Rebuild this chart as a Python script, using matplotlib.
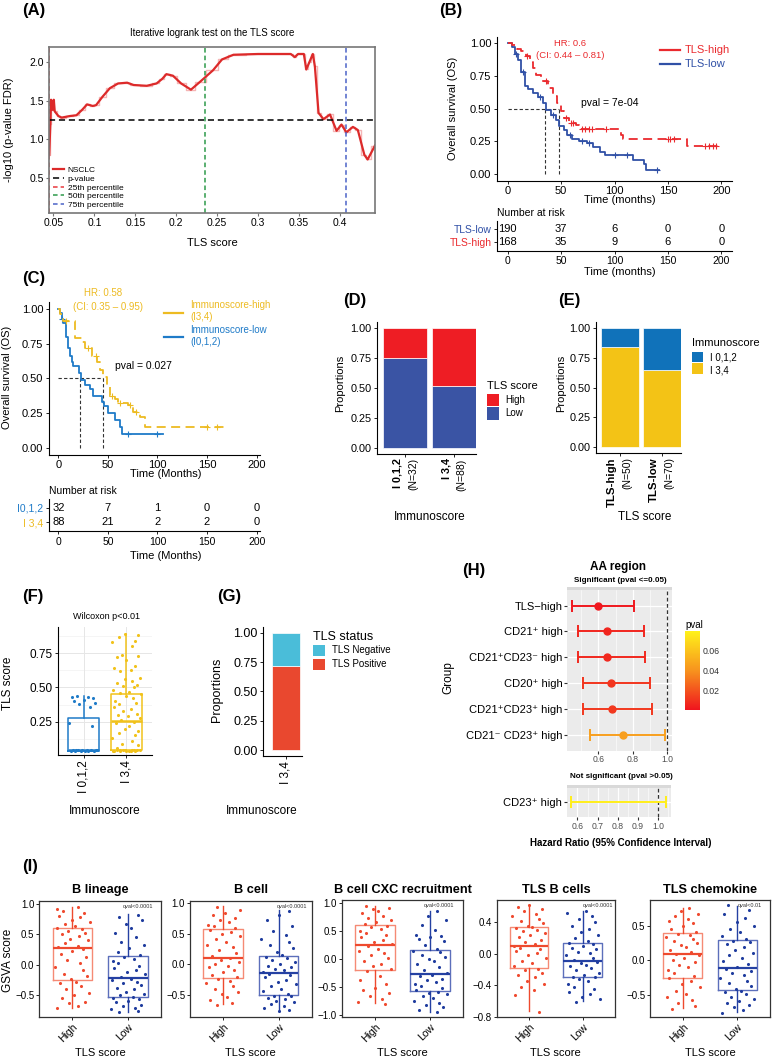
import numpy as np
import matplotlib
matplotlib.use("Agg")
import matplotlib.pyplot as plt
import matplotlib.transforms as mtransforms
from matplotlib.colors import LinearSegmentedColormap, Normalize
from matplotlib.patches import Rectangle
from matplotlib.lines import Line2D
from matplotlib.cm import ScalarMappable

plt.rcParams['font.family'] = ['Liberation Sans', 'DejaVu Sans']
plt.rcParams['font.size'] = 7.5

# ---------------- data ----------------
# (A) iterative logrank test
A_TLS = [0.0447, 0.0462, 0.0470, 0.0480, 0.0490, 0.0503, 0.0515, 0.0560, 0.0600, 0.0700,
         0.0780, 0.0850, 0.0910, 0.0980, 0.1020, 0.1100, 0.1190, 0.1290, 0.1400, 0.1480,
         0.1640, 0.1760, 0.1830, 0.1880, 0.1960, 0.2060, 0.2180, 0.2290, 0.2450, 0.2560,
         0.2700, 0.3000, 0.3400, 0.3450, 0.3490, 0.3560, 0.3590, 0.3630, 0.3670, 0.3695,
         0.3740, 0.3800, 0.3880, 0.3960, 0.4020, 0.4080, 0.4160, 0.4220, 0.4300, 0.4340, 0.4430]
A_FDR = [0.80, 1.20, 1.51, 1.45, 1.38, 1.51, 1.36, 1.30, 1.28, 1.30,
         1.31, 1.38, 1.45, 1.43, 1.44, 1.55, 1.66, 1.72, 1.73, 1.70,
         1.69, 1.72, 1.78, 1.84, 1.82, 1.72, 1.64, 1.74, 1.89, 2.03,
         2.09, 2.10, 2.10, 2.06, 2.10, 2.10, 1.90, 2.00, 2.10, 1.94,
         1.34, 1.26, 1.32, 1.11, 1.19, 1.09, 1.16, 1.12, 0.80, 0.74, 0.92]
A_PCUT = 1.25
A_PCTL = [0.045, 0.235, 0.408]
A_PCTL_LABELS = ['25th percentile', '50th percentile', '75th percentile']
A_XTICKS = [0.05, 0.1, 0.15, 0.2, 0.25, 0.3, 0.35, 0.4]
A_XTICKLABELS = ['0.05', '0.1', '0.15', '0.2', '0.25', '0.3', '0.35', '0.4']

# (B) KM TLS-high vs TLS-low
B_LOW_T = [0, 3.7, 6.7, 9.8, 12.9, 16, 19, 23.6, 28, 32.8, 35.9, 40.5, 45, 48, 52.8,
           55.8, 60.4, 66.6, 74, 80, 86.5, 91, 117, 128, 129.4, 142]
B_LOW_S = [1.0, 0.97, 0.92, 0.87, 0.78, 0.67, 0.65, 0.62, 0.59, 0.54, 0.49, 0.45, 0.41, 0.37, 0.34,
           0.30, 0.27, 0.25, 0.235, 0.21, 0.17, 0.145, 0.11, 0.08, 0.03, 0.03]
B_HIGH_T = [0, 3.7, 8.3, 12.9, 17.5, 20.6, 23.6, 26.7, 31.3, 37.4, 42, 46, 49.7, 52.8,
            57.4, 63.5, 66.6, 106.4, 108, 167.8, 197]
B_HIGH_S = [1.0, 0.99, 0.96, 0.94, 0.90, 0.86, 0.81, 0.76, 0.71, 0.66, 0.60, 0.54, 0.48, 0.43,
            0.39, 0.375, 0.345, 0.30, 0.265, 0.215, 0.215]
B_LOW_CENS = [8, 14, 30, 42, 58, 70, 76, 100, 112, 140]
B_HIGH_CENS = [18, 36, 55, 59, 61, 70, 72, 76, 79, 92, 150, 152, 156, 185, 188, 192, 195]
B_MED = [35, 48]
RISK_T = [0, 50, 100, 150, 200]
B_RISK_LOW = [190, 37, 6, 0, 0]
B_RISK_HIGH = [168, 35, 9, 6, 0]

# (C) KM immunoscore
C_LOW_T = [0, 1.7, 3.4, 5, 7.4, 9.4, 11.8, 13.4, 15.1, 20.8, 22.9, 26.9, 31.9, 35.3, 43.7,
           46, 50.4, 57.1, 62.2, 63.9, 106]
C_LOW_S = [1.0, 0.97, 0.93, 0.90, 0.80, 0.72, 0.66, 0.62, 0.59, 0.54, 0.49, 0.45, 0.42, 0.37, 0.33,
           0.30, 0.25, 0.20, 0.15, 0.10, 0.10]
C_HIGH_T = [0, 1.7, 5, 16.8, 23.5, 26.9, 33.6, 38.7, 42, 44.7, 48.7, 52, 57, 60.5, 70.6,
            75.6, 82.4, 87.4, 168]
C_HIGH_S = [1.0, 0.96, 0.91, 0.79, 0.76, 0.72, 0.66, 0.62, 0.56, 0.51, 0.45, 0.37, 0.35, 0.32, 0.31,
            0.26, 0.22, 0.15, 0.15]
C_LOW_CENS = [4, 70, 100]
C_HIGH_CENS = [8, 30, 38, 54, 62, 72, 78, 150, 160]
C_MED = [22, 45]
C_RISK_LOW = [32, 7, 1, 0, 0]
C_RISK_HIGH = [88, 21, 2, 2, 0]

# (D) TLS score by immunoscore
D_GROUPS = ['I 0,1,2', 'I 3,4']
D_N = [32, 88]
D_LOW = [0.75, 0.52]
D_HIGH = [0.25, 0.48]

# (E) immunoscore by TLS score
E_GROUPS = ['TLS-high', 'TLS-low']
E_N = [50, 70]
E_I34 = [0.84, 0.65]
E_I012 = [0.16, 0.35]

# (F) TLS score by immunoscore
F_GROUPS = ['I 0,1,2', 'I 3,4']
F_BOX_LOW = [0.036, 0.036, 0.040, 0.279, 0.44]     # whislo, q1, med, q3, whishi
F_BOX_HIGH = [0.036, 0.040, 0.255, 0.455, 0.89]
F_LOW_PTS = [0.035, 0.036, 0.037, 0.038, 0.038, 0.039, 0.040, 0.040, 0.041, 0.041, 0.042,
             0.043, 0.044, 0.045, 0.22, 0.24, 0.36, 0.38, 0.39, 0.40, 0.41, 0.42, 0.43, 0.43, 0.44]
F_HIGH_PTS = [0.89, 0.88, 0.87, 0.84, 0.83, 0.80, 0.74, 0.73, 0.72, 0.70, 0.66, 0.64, 0.63,
              0.62, 0.57, 0.56, 0.55, 0.53, 0.52, 0.51, 0.50, 0.48, 0.47, 0.46, 0.45, 0.44,
              0.42, 0.40, 0.39, 0.38, 0.36, 0.34, 0.33, 0.31, 0.30, 0.29, 0.28, 0.26, 0.25,
              0.24, 0.22, 0.20, 0.18, 0.17, 0.15, 0.13, 0.11, 0.09, 0.08, 0.06,
              0.035, 0.036, 0.037, 0.038, 0.039, 0.040, 0.040, 0.041, 0.042, 0.043, 0.044,
              0.045, 0.036, 0.039, 0.042]

# (G) TLS status
G_GROUP = ['I 3,4']
G_POS = [0.72]
G_NEG = [0.28]

# (H) forest plot, AA region
H_GROUPS = ['TLS\u2212high', 'CD21\u207a high', 'CD21\u207aCD23\u207b high', 'CD20\u207a high',
            'CD21\u207aCD23\u207a high', 'CD21\u207b CD23\u207a high']
H_EST = [0.600, 0.649, 0.650, 0.674, 0.678, 0.741]
H_LO = [0.446, 0.484, 0.484, 0.509, 0.511, 0.552]
H_HI = [0.809, 0.867, 0.870, 0.900, 0.911, 0.987]
H_PVAL = [0.002, 0.006, 0.007, 0.011, 0.012, 0.045]
H_NS_GROUP = ['CD23\u207a high']
H_NS_LO = [0.567]
H_NS_HI = [1.04]
H_NS_PVAL = [0.078]

# (I) GSVA scores
I_TITLES = ['B lineage', 'B cell', 'B cell CXC recruitment', 'TLS B cells', 'TLS chemokine']
I_QVAL = ['qval<0.0001', 'qval<0.0001', 'qval<0.0001', 'qval<0.0001', 'qval<0.01']
I_YLIM = [(-0.86, 1.055), (-0.855, 1.04), (-1.03, 1.06), (-0.79, 0.686), (-0.81, 0.867)]
I_YTICKS = [[-0.5, 0.0, 0.5, 1.0], [-0.5, 0.0, 0.5, 1.0], [-1.0, -0.5, 0.0, 0.5, 1.0],
            [-0.8, -0.4, 0.0, 0.4], [-0.5, 0.0, 0.5]]
# whislo, q1, med, q3, whishi
I_HIGH_BOX = [[-0.72, -0.26, 0.27, 0.60, 0.95], [-0.65, -0.23, 0.107, 0.573, 0.95],
              [-0.79, -0.20, 0.25, 0.61, 0.95], [-0.73, -0.18, 0.105, 0.345, 0.62],
              [-0.69, -0.247, 0.095, 0.39, 0.75]]
I_LOW_BOX = [[-0.78, -0.53, -0.22, 0.14, 0.84], [-0.75, -0.50, -0.134, 0.13, 0.88],
             [-0.94, -0.57, -0.26, 0.16, 0.86], [-0.60, -0.295, -0.097, 0.143, 0.55],
             [-0.74, -0.43, -0.11, 0.286, 0.786]]
I_HIGH_PTS = [
    [-0.72, -0.69, -0.64, -0.61, -0.55, -0.50, -0.47, -0.41, -0.36, -0.31, -0.28,
     -0.24, -0.19, -0.15, -0.09, -0.04, 0.03, 0.08, 0.13, 0.18, 0.22, 0.26,
     0.29, 0.31, 0.36, 0.40, 0.43, 0.47, 0.50, 0.53, 0.55, 0.58,
     0.61, 0.63, 0.67, 0.70, 0.74, 0.78, 0.81, 0.85, 0.88, 0.92, 0.95],
    [-0.66, -0.63, -0.58, -0.54, -0.49, -0.45, -0.40, -0.36, -0.31, -0.27, -0.24,
     -0.21, -0.17, -0.13, -0.09, -0.05, -0.02, 0.01, 0.04, 0.07, 0.10,
     0.13, 0.18, 0.23, 0.28, 0.32, 0.37, 0.42, 0.46, 0.50, 0.53, 0.56,
     0.59, 0.62, 0.65, 0.69, 0.72, 0.76, 0.80, 0.84, 0.88, 0.93],
    [-0.80, -0.76, -0.71, -0.66, -0.61, -0.56, -0.51, -0.45, -0.38, -0.30, -0.22,
     -0.18, -0.13, -0.08, -0.03, 0.02, 0.07, 0.11, 0.15, 0.19, 0.23,
     0.27, 0.31, 0.35, 0.39, 0.43, 0.47, 0.51, 0.54, 0.57, 0.60,
     0.63, 0.66, 0.70, 0.74, 0.78, 0.82, 0.86, 0.89, 0.92, 0.95],
    [-0.74, -0.52, -0.46, -0.42, -0.38, -0.34, -0.30, -0.27, -0.24, -0.21, -0.19,
     -0.16, -0.12, -0.09, -0.05, -0.02, 0.01, 0.04, 0.06, 0.08, 0.10,
     0.12, 0.15, 0.18, 0.21, 0.24, 0.26, 0.29, 0.31, 0.33, 0.34,
     0.36, 0.39, 0.42, 0.45, 0.48, 0.51, 0.54, 0.57, 0.60, 0.62],
    [-0.70, -0.66, -0.62, -0.57, -0.53, -0.49, -0.44, -0.39, -0.34, -0.30, -0.26,
     -0.22, -0.18, -0.14, -0.10, -0.06, -0.02, 0.01, 0.04, 0.07, 0.09,
     0.12, 0.15, 0.19, 0.22, 0.25, 0.28, 0.31, 0.34, 0.36, 0.38,
     0.41, 0.45, 0.49, 0.53, 0.57, 0.60, 0.63, 0.67, 0.71, 0.75],
]
I_LOW_PTS = [
    [-0.78, -0.76, -0.74, -0.71, -0.68, -0.66, -0.62, -0.60, -0.57, -0.55, -0.54,
     -0.51, -0.48, -0.45, -0.41, -0.38, -0.34, -0.31, -0.28, -0.25, -0.23,
     -0.20, -0.16, -0.12, -0.09, -0.05, -0.02, 0.02, 0.06, 0.09, 0.12,
     0.16, 0.21, 0.27, 0.33, 0.38, 0.45, 0.52, 0.60, 0.67, 0.74, 0.79, 0.82],
    [-0.76, -0.74, -0.71, -0.68, -0.65, -0.62, -0.60, -0.57, -0.55, -0.52, -0.51,
     -0.48, -0.44, -0.40, -0.36, -0.32, -0.28, -0.25, -0.21, -0.18, -0.15,
     -0.12, -0.10, -0.07, -0.05, -0.02, 0.01, 0.04, 0.07, 0.10, 0.12,
     0.15, 0.20, 0.26, 0.31, 0.36, 0.42, 0.48, 0.55, 0.63, 0.72, 0.80, 0.87],
    [-0.94, -0.91, -0.86, -0.82, -0.78, -0.74, -0.70, -0.66, -0.63, -0.60, -0.58,
     -0.55, -0.52, -0.48, -0.45, -0.41, -0.38, -0.35, -0.31, -0.28,
     -0.24, -0.19, -0.14, -0.09, -0.04, 0.00, 0.04, 0.08, 0.12, 0.15,
     0.19, 0.25, 0.33, 0.37, 0.39, 0.41, 0.44, 0.52, 0.61, 0.70, 0.78, 0.86],
    [-0.61, -0.58, -0.55, -0.51, -0.48, -0.45, -0.42, -0.38, -0.35, -0.32, -0.30,
     -0.29, -0.27, -0.24, -0.21, -0.18, -0.16, -0.14, -0.12, -0.10,
     -0.08, -0.05, -0.02, 0.01, 0.03, 0.06, 0.08, 0.10, 0.12, 0.14,
     0.16, 0.20, 0.24, 0.28, 0.32, 0.36, 0.40, 0.44, 0.48, 0.52, 0.55],
    [-0.75, -0.71, -0.67, -0.64, -0.61, -0.58, -0.55, -0.52, -0.49, -0.46, -0.44,
     -0.41, -0.37, -0.33, -0.29, -0.25, -0.21, -0.18, -0.15, -0.12,
     -0.09, -0.05, -0.01, 0.03, 0.07, 0.11, 0.15, 0.19, 0.23, 0.26, 0.28,
     0.31, 0.35, 0.40, 0.45, 0.50, 0.55, 0.61, 0.67, 0.73, 0.79],
]

# fixed jitter pattern (horizontal spread of points, in box-width units)
JIT = [-0.21, 0.08, -0.05, 0.17, -0.14, 0.02, 0.23, -0.09, 0.12, -0.18, 0.05, -0.02, 0.20,
       -0.12, 0.14, -0.24, 0.10, -0.07, 0.19, -0.16, 0.00, 0.15, -0.20, 0.07, -0.11, 0.22,
       -0.03, 0.09, -0.15, 0.18, -0.06, 0.13, -0.22, 0.04, -0.10, 0.24, -0.01, 0.11, -0.19,
       0.16, -0.13]

# colours
RED_B, BLUE_B = '#EA2A2E', '#3050A6'
YEL_C, BLUE_C = '#EDBB22', '#1F7BC8'
D_RED, D_BLUE = '#EE1D24', '#3A54A4'
E_BLUE, E_YEL = '#1072BA', '#F3C316'
G_CYAN, G_RED = '#4ABDD9', '#E9482F'

# ---------------- figure helpers (pixel layout) ----------------
W, H = 772, 1059
fig = plt.figure(figsize=(W / 100, H / 100), dpi=100)
fig.patch.set_facecolor('white')


def add_ax(l, t, r, b):
    return fig.add_axes([l / W, 1 - b / H, (r - l) / W, (b - t) / H])


def ftext(x, y, s, **kw):
    kw.setdefault('ha', 'center')
    kw.setdefault('va', 'center')
    return fig.text(x / W, 1 - y / H, s, **kw)


def frect(l, t, r, b, color):
    fig.add_artist(Rectangle((l / W, 1 - b / H), (r - l) / W, (b - t) / H,
                             transform=fig.transFigure, color=color, lw=0))


def fline(x0, y0, x1, y1, **kw):
    fig.add_artist(Line2D([x0 / W, x1 / W], [1 - y0 / H, 1 - y1 / H],
                          transform=fig.transFigure, **kw))


def classic(ax, lw=0.8):
    for s in ['top', 'right']:
        ax.spines[s].set_visible(False)
    for s in ['left', 'bottom']:
        ax.spines[s].set_linewidth(lw)
    ax.tick_params(length=2.5, width=0.6, pad=1.5)


def km(ax, t, s, cens, color, ls):
    ax.step(t, s, where='post', color=color, lw=1.3, ls=ls)
    t = np.asarray(t)
    s = np.asarray(s)
    idx = np.searchsorted(t, cens, side='right') - 1
    ax.plot(cens, s[idx], '+', color=color, ms=4, mew=0.8)


def risk_table(rect, xlim, low, high, labels, colors):
    ax = add_ax(*rect)
    ax.set_xlim(*xlim)
    ax.set_ylim(0.4, 2.6)
    for t, n in zip(RISK_T, low):
        ax.text(t, 2, str(n), ha='center', va='center', fontsize=8)
    for t, n in zip(RISK_T, high):
        ax.text(t, 1, str(n), ha='center', va='center', fontsize=8)
    ax.set_yticks([2, 1], labels, fontsize=8)
    for tl, c in zip(ax.get_yticklabels(), colors):
        tl.set_color(c)
    ax.set_xticks(RISK_T)
    classic(ax)
    ax.tick_params(labelsize=7.5)
    return ax


# panel letters
for lab, x, y in [('(A)', 22, 10), ('(B)', 439, 10), ('(C)', 22, 278), ('(D)', 343, 301),
                  ('(E)', 558, 301), ('(F)', 22, 596), ('(G)', 217, 596), ('(H)', 462, 570),
                  ('(I)', 22, 867)]:
    ftext(x, y, lab, ha='left', fontsize=12, fontweight='bold')

# ---------------- (A) ----------------
axA = add_ax(49, 47, 375, 213)
axA.plot(A_TLS, A_FDR, color='#F5B5B5', lw=1.0, drawstyle='steps-mid')
axA.plot(A_TLS, A_FDR, color='#DC2A2A', lw=1.6, label='NSCLC')
axA.axhline(A_PCUT, color='black', ls=(0, (4, 2.5)), lw=1.1, label='p-value')
for x, c, lab in zip(A_PCTL, ['#E8383D', '#2E9A4A', '#4B63C8'], A_PCTL_LABELS):
    axA.axvline(x, color=c, ls=(0, (3, 2)), lw=1.1, label=lab)
axA.set_xlim(0.0445, 0.443)
axA.set_ylim(0.05, 2.19)
axA.set_xticks(A_XTICKS, A_XTICKLABELS)
axA.set_yticks([0.5, 1.0, 1.5, 2.0], ['0.5', '1.0', '1.5', '2.0'])
for s in axA.spines.values():
    s.set_color('#777777')
    s.set_linewidth(1.2)
axA.tick_params(labelsize=7.5, length=2, color='#777777', pad=1.5)
axA.legend(loc='lower left', fontsize=6, frameon=False, handlelength=1.4, labelspacing=0.12,
           handletextpad=0.4, borderaxespad=0.25, borderpad=0.2)
ftext(212, 33, 'Iterative logrank test on the TLS score', fontsize=7)
ftext(212, 243, 'TLS score', fontsize=8)
ftext(9, 130, '-log10 (p-value FDR)', rotation=90, fontsize=8)

# ---------------- (B) ----------------
axB = add_ax(497, 36.8, 732, 180.5)
axB.set_xlim(-10, 210)
axB.set_ylim(-0.05, 1.05)
axB.plot([0, max(B_MED)], [0.5, 0.5], color='#333333', ls=(0, (3, 2)), lw=0.8)
for m in B_MED:
    axB.plot([m, m], [0, 0.5], color='#333333', ls=(0, (3, 2)), lw=0.8)
km(axB, B_LOW_T, B_LOW_S, B_LOW_CENS, BLUE_B, '-')
km(axB, B_HIGH_T, B_HIGH_S, B_HIGH_CENS, RED_B, (0, (5, 3)))
axB.set_yticks([0, 0.25, 0.5, 0.75, 1.0], ['0.00', '0.25', '0.50', '0.75', '1.00'])
axB.set_xticks(RISK_T)
classic(axB)
axB.tick_params(labelsize=8)
ftext(453, 108, 'Overall survival (OS)', rotation=90, fontsize=8)
ftext(620, 200, 'Time (months)', fontsize=8)
ftext(570, 43.5, 'HR: 0.6', color=RED_B, fontsize=6.8)
ftext(570, 56, '(CI: 0.44 \u2013 0.81)', color=RED_B, fontsize=6.8)
ftext(610, 103.5, 'pval = 7e-04', fontsize=7.5)
fline(660, 50, 680, 50, color=RED_B, lw=1.6)
ftext(685, 50, 'TLS-high', ha='left', color=RED_B, fontsize=8)
fline(660, 64.3, 680, 64.3, color=BLUE_B, lw=1.6)
ftext(685, 64.3, 'TLS-low', ha='left', color=BLUE_B, fontsize=8)
risk_table((497, 220.5, 732, 250.5), (-10, 210), B_RISK_LOW, B_RISK_HIGH,
           ['TLS-low', 'TLS-high'], [BLUE_B, RED_B])
ftext(497, 212.7, 'Number at risk', ha='left', fontsize=7.5)
ftext(620, 272, 'Time (months)', fontsize=8)

# ---------------- (C) ----------------
axC = add_ax(49, 302, 260, 454.6)
axC.set_xlim(-9.4, 203.4)
axC.set_ylim(-0.05, 1.05)
axC.plot([0, max(C_MED)], [0.5, 0.5], color='#333333', ls=(0, (3, 2)), lw=0.8)
for m in C_MED:
    axC.plot([m, m], [0, 0.5], color='#333333', ls=(0, (3, 2)), lw=0.8)
km(axC, C_LOW_T, C_LOW_S, C_LOW_CENS, BLUE_C, '-')
km(axC, C_HIGH_T, C_HIGH_S, C_HIGH_CENS, YEL_C, (0, (5, 3)))
axC.set_yticks([0, 0.25, 0.5, 0.75, 1.0], ['0.00', '0.25', '0.50', '0.75', '1.00'])
axC.set_xticks(RISK_T)
classic(axC)
axC.tick_params(labelsize=8)
ftext(7.5, 377, 'Overall survival (OS)', rotation=90, fontsize=8)
ftext(166, 474, 'Time (Months)', fontsize=8)
ftext(103, 293.3, 'HR: 0.58', color=YEL_C, fontsize=7)
ftext(108, 306.7, '(CI: 0.35 \u2013 0.95)', color=YEL_C, fontsize=7)
ftext(143.3, 366, 'pval = 0.027', fontsize=7.5)
fline(164, 312.7, 183, 312.7, color=YEL_C, lw=1.6)
ftext(190, 305, 'Immunoscore-high', ha='left', color=YEL_C, fontsize=7)
ftext(190, 317.3, '(I3,4)', ha='left', color=YEL_C, fontsize=7)
fline(164, 336.7, 183, 336.7, color=BLUE_C, lw=1.6)
ftext(190, 330, 'Immunoscore-low', ha='left', color=BLUE_C, fontsize=7)
ftext(190, 341.7, '(I0,1,2)', ha='left', color=BLUE_C, fontsize=7)
risk_table((49, 499, 260, 531), (-9.4, 203.4), C_RISK_LOW, C_RISK_HIGH,
           ['I0,1,2', 'I 3,4'], [BLUE_C, YEL_C])
ftext(49, 491, 'Number at risk', ha='left', fontsize=7.5)
ftext(166, 556, 'Time (Months)', fontsize=8)


# ---------------- (D) / (E) stacked bars ----------------
def prop_axes(ax):
    ax.set_ylim(-0.05, 1.05)
    ax.set_yticks([0, 0.25, 0.5, 0.75, 1.0], ['0.00', '0.25', '0.50', '0.75', '1.00'])
    classic(ax)
    ax.tick_params(labelsize=7.8)


def two_line_labels(ax, groups, ns, off_b, off_n, size):
    tr = mtransforms.blended_transform_factory(ax.transData, ax.transAxes)
    ax.set_xticks(range(1, len(groups) + 1), [''] * len(groups))
    for i, (g, n) in enumerate(zip(groups, ns)):
        ax.text(i + 1 + off_b, -0.035, g, transform=tr, rotation=90, ha='center', va='top',
                fontweight='bold', fontsize=size)
        ax.text(i + 1 + off_n, -0.035, '(N=%d)' % n, transform=tr, rotation=90, ha='center',
                va='top', fontsize=7.5)


axD = add_ax(377.3, 322.3, 476, 453.7)
xd = np.arange(1, len(D_GROUPS) + 1)
axD.bar(xd, D_LOW, width=0.9, color=D_BLUE, edgecolor='white', lw=0.5)
axD.bar(xd, D_HIGH, width=0.9, bottom=D_LOW, color=D_RED, edgecolor='white', lw=0.5)
axD.set_xlim(0.44, 2.46)
prop_axes(axD)
two_line_labels(axD, D_GROUPS, D_N, -0.14, 0.17, 7.8)
ftext(340, 383, 'Proportions', rotation=90, fontsize=8)
ftext(430, 517.3, 'Immunoscore', fontsize=8.5)
ftext(486.7, 386, 'TLS score', ha='left', fontsize=8)
frect(486.7, 393.5, 498.7, 406, D_RED)
frect(486.7, 407, 498.7, 419.5, D_BLUE)
ftext(505, 400, 'High', ha='left', fontsize=7)
ftext(505, 413.3, 'Low', ha='left', fontsize=7)

axE = add_ax(596, 322.4, 680.7, 452.6)
xe = np.arange(1, len(E_GROUPS) + 1)
axE.bar(xe, E_I34, width=0.9, color=E_YEL, edgecolor='white', lw=0.5)
axE.bar(xe, E_I012, width=0.9, bottom=E_I34, color=E_BLUE, edgecolor='white', lw=0.5)
axE.set_xlim(0.43, 2.45)
prop_axes(axE)
two_line_labels(axE, E_GROUPS, E_N, -0.2, 0.17, 8.2)
ftext(560.7, 383.3, 'Proportions', rotation=90, fontsize=8)
ftext(645, 517.3, 'TLS score', fontsize=8.5)
ftext(691.7, 342.7, 'Immunoscore', ha='left', fontsize=8)
frect(692.3, 351.7, 703.3, 362.3, E_BLUE)
frect(692.3, 363, 703.3, 373.7, E_YEL)
ftext(710, 357, 'I 0,1,2', ha='left', fontsize=7)
ftext(710, 370.3, 'I 3,4', ha='left', fontsize=7)

# ---------------- (F) ----------------
axF = add_ax(58.3, 626.7, 151.7, 755)
axF.set_xlim(0.41, 2.59)
axF.set_ylim(0.007, 0.944)
for y in [0.125, 0.375, 0.625, 0.875]:
    axF.axhline(y, color='#F2F2F2', lw=0.5, zorder=0)
for y in [0.25, 0.5, 0.75]:
    axF.axhline(y, color='#E6E6E6', lw=0.7, zorder=0)
for x in [1, 2]:
    axF.axvline(x, color='#E6E6E6', lw=0.7, zorder=0)
for j, (box, pts, col) in enumerate([(F_BOX_LOW, F_LOW_PTS, BLUE_C),
                                     (F_BOX_HIGH, F_HIGH_PTS, '#F1C21B')]):
    st = [dict(whislo=box[0], q1=box[1], med=box[2], q3=box[3], whishi=box[4], fliers=[])]
    axF.bxp(st, positions=[j + 1], widths=0.72, showfliers=False, showcaps=False,
            boxprops=dict(color=col, lw=1.1), whiskerprops=dict(color=col, lw=1.1),
            medianprops=dict(color=col, lw=1.8), manage_ticks=False)
    xs = j + 1 + np.array([JIT[(i + 11 * j) % len(JIT)] for i in range(len(pts))]) * 1.4
    axF.scatter(xs, pts, s=5, color=col, lw=0, zorder=3)
axF.set_yticks([0.25, 0.5, 0.75], ['0.25', '0.50', '0.75'])
axF.set_xticks([1, 2], F_GROUPS, rotation=90, fontsize=8.5)
classic(axF)
axF.tick_params(axis='y', labelsize=8.5)
ftext(106.7, 616.7, 'Wilcoxon p<0.01', fontsize=6.5)
ftext(8, 683, 'TLS score', rotation=90, fontsize=8.5)
ftext(105, 811, 'Immunoscore', fontsize=8.5)

# ---------------- (G) ----------------
axG = add_ax(263.3, 626.8, 301.7, 755.9)
xg = np.arange(1, len(G_GROUP) + 1)
axG.bar(xg, G_POS, width=0.9, color=G_RED, edgecolor='white', lw=0.5)
axG.bar(xg, G_NEG, width=0.9, bottom=G_POS, color=G_CYAN, edgecolor='white', lw=0.5)
axG.set_xlim(0.282, 1.505)
axG.set_ylim(-0.05, 1.05)
axG.set_yticks([0, 0.25, 0.5, 0.75, 1.0], ['0.00', '0.25', '0.50', '0.75', '1.00'])
axG.set_xticks(xg, G_GROUP, rotation=90, fontsize=8.5)
classic(axG)
axG.tick_params(axis='y', labelsize=9)
ftext(216.7, 690, 'Proportions', rotation=90, fontsize=9)
ftext(262, 811, 'Immunoscore', fontsize=8.5)
ftext(312.7, 636.7, 'TLS status', ha='left', fontsize=9)
frect(312.7, 645, 325, 655.7, G_CYAN)
frect(312.7, 659, 325, 670, G_RED)
ftext(331.7, 650.3, 'TLS Negative', ha='left', fontsize=7)
ftext(331.7, 664.3, 'TLS Positive', ha='left', fontsize=7)

# ---------------- (H) ----------------
cmap = LinearSegmentedColormap.from_list('ry', ['#F0141E', '#F7931E', '#FFF21A'])
norm = Normalize(vmin=0.0007, vmax=0.08)


def gg_panel(ax, xlim, major, minor):
    ax.set_facecolor('#EBEBEB')
    ax.set_xlim(*xlim)
    for x in minor:
        ax.axvline(x, color='white', lw=0.4, zorder=0)
    for x in major:
        ax.axvline(x, color='white', lw=0.9, zorder=0)
    for s in ax.spines.values():
        s.set_visible(False)
    ax.set_xticks(major, ['%.1f' % v for v in major])
    ax.tick_params(axis='x', labelsize=6.2, labelcolor='#4D4D4D', length=2, color='#333333', pad=1.5)
    ax.tick_params(axis='y', labelsize=8, length=2, color='#333333', pad=1.5)


axH1 = add_ax(567.3, 590, 671.7, 750.5)
rows = np.arange(len(H_GROUPS), 0, -1)
axH1.set_ylim(0.4, len(H_GROUPS) + 0.6)
gg_panel(axH1, (0.42, 1.025), [0.6, 0.8, 1.0], [0.5, 0.7, 0.9])
for y in rows:
    axH1.axhline(y, color='white', lw=0.9, zorder=0)
axH1.axvline(1.0, color='#333333', ls=(0, (3, 2)), lw=0.9, zorder=1)
for y, e, lo, hi, p in zip(rows, H_EST, H_LO, H_HI, H_PVAL):
    c = cmap(norm(p))
    axH1.errorbar([e], [y], xerr=[[e - lo], [hi - e]], fmt='o', color=c, ms=5, lw=1.4,
                  capsize=4.5, capthick=1.4, zorder=3)
axH1.set_yticks(rows, H_GROUPS)
frect(567.3, 586.5, 671.7, 590, '#D9D9D9')
ftext(618.3, 567, 'AA region', fontweight='bold', fontsize=8.5)
ftext(620, 580.5, 'Significant (pval <=0.05)', fontweight='bold', fontsize=5.8)

axH2 = add_ax(566.7, 788, 670.7, 816.7)
axH2.set_ylim(0.4, 1.6)
gg_panel(axH2, (0.547, 1.061), [0.6, 0.7, 0.8, 0.9, 1.0], [0.65, 0.75, 0.85, 0.95, 1.05])
axH2.axhline(1, color='white', lw=0.9, zorder=0)
axH2.axvline(1.0, color='#333333', ls=(0, (3, 2)), lw=0.9, zorder=1)
for lo, hi, p in zip(H_NS_LO, H_NS_HI, H_NS_PVAL):
    c = cmap(norm(p))
    axH2.errorbar([(lo + hi) / 2], [1], xerr=[[(hi - lo) / 2], [(hi - lo) / 2]], fmt='none',
                  color=c, lw=1.4, capsize=4.5, capthick=1.4, zorder=3)
axH2.set_yticks([1], H_NS_GROUP)
frect(566.7, 784.5, 670.7, 788, '#D9D9D9')
ftext(621.7, 777, 'Not significant (pval >0.05)', fontweight='bold', fontsize=5.8)
ftext(448, 678, 'Group', rotation=90, fontsize=8.5)
ftext(621, 842.7, 'Hazard Ratio (95% Confidence Interval)', fontweight='bold', fontsize=7)

cax = add_ax(685, 631, 700, 710)
cb = fig.colorbar(ScalarMappable(norm=norm, cmap=cmap), cax=cax)
cb.outline.set_visible(False)
cb.set_ticks([0.02, 0.04, 0.06])
cax.tick_params(labelsize=6.3, length=0, labelcolor='#333333', pad=2)
ftext(685, 625, 'pval', ha='left', fontsize=7)

# ---------------- (I) ----------------
I_RECTS = [(39.3, 900.7, 161, 1016.7), (190, 900.7, 311.7, 1016.7), (341.7, 900, 463.3, 1016.7),
           (496.7, 900, 615, 1016.7), (650, 900, 770, 1016.7)]
I_QPOS = [0.81, 0.84, 0.80, 0.86, 0.83]
HI_PT, HI_BOX, HI_MED = '#EF4A2F', '#F58A75', '#EE4A2E'
LO_PT, LO_BOX, LO_MED = '#1F3C9E', '#5C6FBB', '#2541A3'
for k in range(len(I_TITLES)):
    ax = add_ax(*I_RECTS[k])
    ax.set_xlim(0.4, 2.6)
    ax.set_ylim(*I_YLIM[k])
    groups = [(I_HIGH_BOX[k], I_HIGH_PTS[k], HI_PT, HI_BOX, HI_MED),
              (I_LOW_BOX[k], I_LOW_PTS[k], LO_PT, LO_BOX, LO_MED)]
    for j, (box, pts, pc, bc, mc) in enumerate(groups):
        st = [dict(whislo=box[0], q1=box[1], med=box[2], q3=box[3], whishi=box[4], fliers=[])]
        ax.bxp(st, positions=[j + 1], widths=0.72, showfliers=False, showcaps=False,
               boxprops=dict(color=bc, lw=1.0), whiskerprops=dict(color=mc, lw=1.0),
               medianprops=dict(color=mc, lw=1.6), manage_ticks=False)
        xs = j + 1 + np.array([JIT[(i + 7 * k + 13 * j) % len(JIT)] for i in range(len(pts))]) * 1.3
        ax.scatter(xs, pts, s=5, color=pc, lw=0, zorder=3)
    ax.set_yticks(I_YTICKS[k])
    ax.set_xticks([1, 2], ['High', 'Low'], rotation=45, ha='right', rotation_mode='anchor')
    for s in ax.spines.values():
        s.set_color('#333333')
        s.set_linewidth(0.9)
    ax.tick_params(labelsize=7, length=2, width=0.6, pad=1.5)
    ax.tick_params(axis='x', labelsize=7.5, pad=2)
    ax.text(I_QPOS[k], 0.95, I_QVAL[k], transform=ax.transAxes, ha='center', va='center',
            fontsize=4, color='#333333')
    cx = (I_RECTS[k][0] + I_RECTS[k][2]) / 2
    ftext(cx, 890, I_TITLES[k], fontweight='bold', fontsize=9.2)
    ftext(cx, 1053, 'TLS score', fontsize=8)
ftext(8, 960, 'GSVA score', rotation=90, fontsize=8.5)

fig.savefig('out.png', dpi=100)
